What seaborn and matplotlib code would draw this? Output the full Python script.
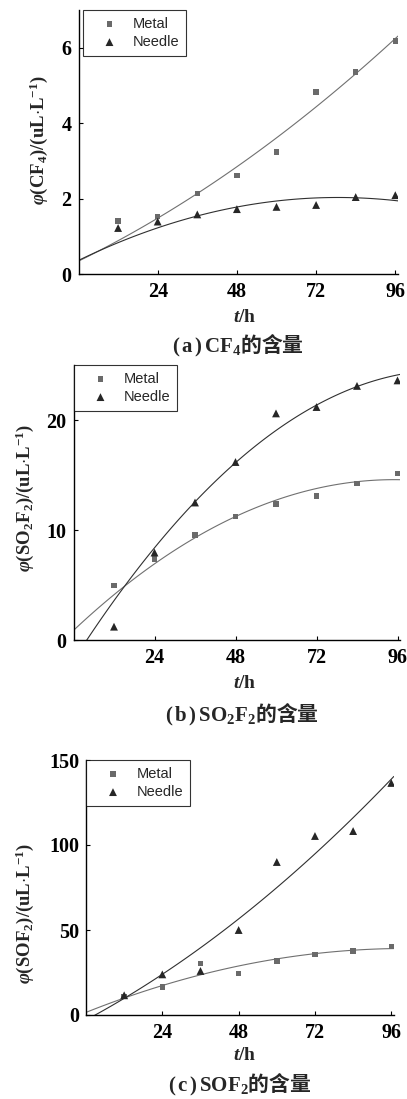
import numpy as np
import pandas as pd
import matplotlib
matplotlib.use("Agg")
import matplotlib.pyplot as plt
import seaborn as sns

sns.set_theme(style="ticks")
plt.rcParams['font.family'] = ['Liberation Serif', 'Noto Sans CJK SC', 'DejaVu Sans']
plt.rcParams['mathtext.fontset'] = 'custom'
plt.rcParams['mathtext.rm'] = 'Liberation Serif:bold'
plt.rcParams['mathtext.bf'] = 'Liberation Serif:bold'
plt.rcParams['mathtext.it'] = 'Liberation Serif:italic:bold'

# ---- data (t = 0 is the initial state, zero content; used by the fit, not drawn) ----
hours = [0, 12, 24, 36, 48, 60, 72, 84, 96]

cf4_metal = [0, 1.41, 1.52, 2.14, 2.61, 3.24, 4.83, 5.35, 6.18]
cf4_needle = [0, 1.22, 1.39, 1.58, 1.72, 1.78, 1.83, 2.04, 2.09]

so2f2_metal = [0, 4.95, 7.34, 9.53, 11.23, 12.35, 13.11, 14.23, 15.14]
so2f2_needle = [0, 1.21, 7.95, 12.5, 16.18, 20.6, 21.18, 23.1, 23.6]

sof2_metal = [0, 10.8, 16.5, 30.4, 24.5, 31.8, 35.5, 37.6, 40.4]
sof2_needle = [0, 11.6, 23.9, 25.9, 50.0, 90.0, 105.3, 108.2, 136.5]

series_names = ["Metal", "Needle"]
xticks = [24, 48, 72, 96]

W, H = 407, 1099

def box(left, ppu, top, bottom):
    return [left / W, 1 - bottom / H, 96.8 * ppu / W, (bottom - top) / H]

panels = [
    dict(metal=cf4_metal, needle=cf4_needle, ylim=(0, 7), yticks=[0, 2, 4, 6],
         ylabel=r"$\varphi\mathbf{(CF_4)/(uL{\cdot}L^{-1})}$",
         caption=r"$\mathbf{(\,a\,)\,CF_4}$的含量",
         pos=box(78.5, 3.30, 10, 274), yl=(38.5, 140), xl_y=317, cap=(238, 345),
         leg_dx=4),
    dict(metal=so2f2_metal, needle=so2f2_needle, ylim=(0, 25), yticks=[0, 10, 20],
         ylabel=r"$\varphi\mathbf{(SO_2F_2)/(uL{\cdot}L^{-1})}$",
         caption=r"$\mathbf{(\,b\,)\,SO_2F_2}$的含量",
         pos=box(73.5, 3.375, 365, 640), yl=(25, 498), xl_y=683, cap=(242, 714),
         leg_dx=0),
    dict(metal=sof2_metal, needle=sof2_needle, ylim=(0, 150), yticks=[0, 50, 100, 150],
         ylabel=r"$\varphi\mathbf{(SOF_2)/(uL{\cdot}L^{-1})}$",
         caption=r"$\mathbf{(\,c\,)\,SOF_2}$的含量",
         pos=box(86.0, 3.18, 760, 1015), yl=(25, 913), xl_y=1055, cap=(240, 1084),
         leg_dx=0),
]

fig = plt.figure(figsize=(W / 100, H / 100), dpi=100)
fig.patch.set_facecolor("white")

metal_color = "#6a6a6a"
needle_color = "#262626"

for p in panels:
    ax = fig.add_axes(p["pos"])
    ax.set_facecolor("white")
    ax.set_xlim(0, 96.8)
    ax.set_ylim(*p["ylim"])
    df = pd.DataFrame({"t": hours, "Metal": p["metal"], "Needle": p["needle"]})
    shown = df[df["t"] > 0]

    sns.regplot(data=df, x="t", y="Metal", order=2, ci=None, scatter=False,
                truncate=False, ax=ax, line_kws=dict(color="#707070", lw=0.8))
    sns.regplot(data=df, x="t", y="Needle", order=2, ci=None, scatter=False,
                truncate=False, ax=ax, line_kws=dict(color="#303030", lw=0.8))
    sns.scatterplot(data=shown, x="t", y="Metal", marker="s", s=16, color=metal_color,
                    edgecolor="none", label=series_names[0], ax=ax, zorder=3)
    sns.scatterplot(data=shown, x="t", y="Needle", marker="^", s=32, color=needle_color,
                    edgecolor="none", label=series_names[1], ax=ax, zorder=3)
    ax.set_xlim(0, 96.8)
    ax.set_ylim(*p["ylim"])

    ax.set_xticks(xticks)
    ax.set_yticks(p["yticks"])
    ax.tick_params(axis="both", direction="in", length=3, width=0.8, labelsize=14.5,
                   colors="black")
    ax.tick_params(axis="y", pad=5)
    ax.tick_params(axis="x", pad=6)
    for lab in ax.get_xticklabels() + ax.get_yticklabels():
        lab.set_fontweight("bold")
        lab.set_fontfamily("Liberation Serif")
    for s in ["top", "right"]:
        ax.spines[s].set_visible(False)
    for s in ["left", "bottom"]:
        ax.spines[s].set_linewidth(1.0)
        ax.spines[s].set_color("black")

    ax.set_xlabel("")
    ax.set_ylabel(p["ylabel"], fontsize=13.5, va="center", ha="center")
    x0, y0, w0, h0 = p["pos"]
    ax.yaxis.set_label_coords((p["yl"][0] / W - x0) / w0,
                              ((1 - p["yl"][1] / H) - y0) / h0)

    leg = ax.legend(loc="upper left", frameon=True, fancybox=False,
                    bbox_to_anchor=(p["leg_dx"] / (w0 * W), 1.0),
                    prop=dict(family="Liberation Sans", size=10.5),
                    borderaxespad=0.0, handletextpad=0.2, labelspacing=0.3,
                    borderpad=0.45, handlelength=2.8)
    leg.get_frame().set_edgecolor("black")
    leg.get_frame().set_linewidth(0.8)

    fig.text(245 / W, 1 - p["xl_y"] / H, r"$t\mathbf{/h}$",
             ha="center", va="center", fontsize=14)
    fig.text(p["cap"][0] / W, 1 - p["cap"][1] / H, p["caption"], ha="center",
             va="center", fontsize=15, fontweight="bold", family="Noto Sans CJK SC")

fig.savefig("out.png", dpi=100, facecolor="white")
